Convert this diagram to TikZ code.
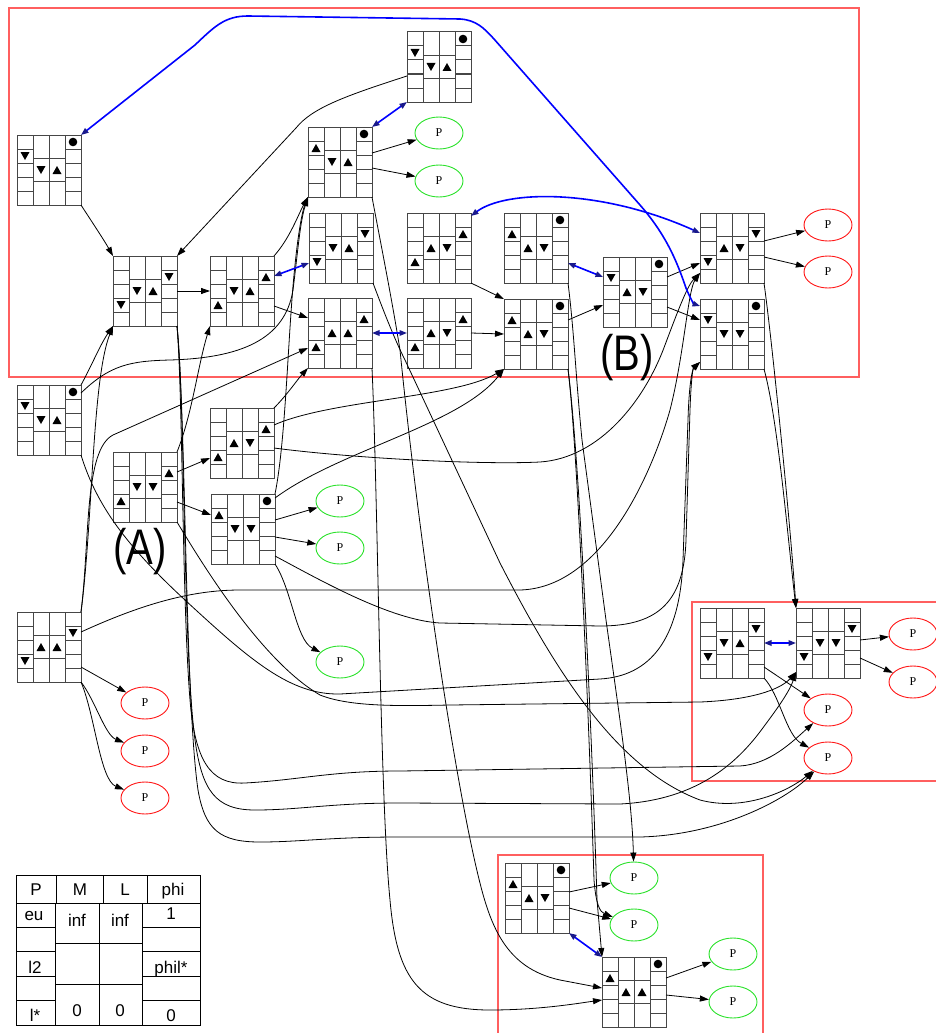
\documentclass[tikz,border=0pt]{standalone}
\usepackage{fontspec}
\setmainfont{Liberation Serif}
\newfontfamily\lsans{Liberation Sans}
\usetikzlibrary{arrows.meta,shapes.geometric,calc}

\definecolor{clusterred}{RGB}{255,95,95}
\definecolor{pgreen}{RGB}{40,225,40}
\definecolor{pred}{RGB}{255,20,20}
\definecolor{navyhead}{RGB}{25,25,140}
\definecolor{gridgray}{RGB}{70,70,70}

\tikzset{
  gbox/.style={draw=gridgray, line width=1pt, fill=white, minimum width=64pt, minimum height=70pt, inner sep=0pt, outer sep=0pt},
  gline/.style={draw=gridgray, line width=1pt},
  ellg/.style={ellipse, draw=pgreen, line width=0.9pt, minimum width=48pt, minimum height=32pt, inner sep=0pt, font=\fontsize{12}{14}\selectfont},
  ellr/.style={ellg, draw=pred},
  edg/.style={-{Triangle[length=9pt,width=6pt]}, line width=0.8pt},
  bedg/.style={{Triangle[length=7.5pt,width=5.5pt,color=navyhead]}-{Triangle[length=7.5pt,width=5.5pt,color=navyhead]}, line width=1.6pt, draw=blue},
  cluster/.style={draw=clusterred, line width=1.2pt},
  tline/.style={draw=black, line width=0.9pt},
  ttext/.style={font=\lsans\fontsize{17}{19}\selectfont, inner sep=0pt, anchor=base},
  bigtext/.style={font=\lsans\fontsize{50}{54}\selectfont, inner sep=0pt},
  tup/.pic={\fill (-4.5,4) -- (4.5,4) -- (0,-4) -- cycle;},
  tdn/.pic={\fill (-4.5,-4) -- (4.5,-4) -- (0,4) -- cycle;},
  dot/.pic={\fill (0,0) circle[radius=4.3pt];},
}

% grid state: name, x, y, row of left mark, left mark, middle marks, row of right mark, right mark
\newcommand\gnode[9]{%
  \node[gbox, anchor=north west] (#1) at (#2,#3) {};
  \begin{scope}[shift={(#2,#3)}]
    \draw[gline] (16,0)--(16,70) (32,0)--(32,70) (48,0)--(48,70)
      (0,14)--(16,14) (0,28)--(16,28) (0,42)--(16,42) (0,56)--(16,56)
      (48,14)--(64,14) (48,28)--(64,28) (48,42)--(64,42) (48,56)--(64,56)
      (16,23.33)--(48,23.33) (16,46.67)--(48,46.67);
    \pic at (8,{14*#4-7}) {#5};
    \pic at (24,35) {#6};
    \pic at (40,35) {#7};
    \pic at (56,{14*#8-7}) {#9};
  \end{scope}
}

\begin{document}
\begin{tikzpicture}[x=1pt,y=-1pt]
\useasboundingbox (0,0) rectangle (935,1033);

% clusters
\draw[cluster] (9,8) rectangle (859,377);
\draw[cluster] (692,602) rectangle (950,781);
\draw[cluster] (498,855) rectangle (763,1045);

% grid states
\gnode{A}{17}{135}{2}{tdn}{tdn}{tup}{1}{dot}
\gnode{B}{113}{256}{4}{tdn}{tdn}{tup}{2}{tdn}
\gnode{C}{210}{256}{4}{tup}{tdn}{tup}{2}{tup}
\gnode{D}{308}{127}{2}{tup}{tdn}{tup}{1}{dot}
\gnode{E}{407}{32}{2}{tdn}{tdn}{tup}{1}{dot}
\gnode{F}{309}{213}{4}{tdn}{tdn}{tup}{2}{tdn}
\gnode{G}{407}{213}{4}{tup}{tup}{tdn}{2}{tup}
\gnode{H}{504}{213}{2}{tup}{tup}{tdn}{1}{dot}
\gnode{I}{308}{298}{4}{tup}{tup}{tup}{2}{tup}
\gnode{J}{407}{298}{4}{tup}{tup}{tdn}{2}{tup}
\gnode{K}{504}{299}{2}{tup}{tup}{tdn}{1}{dot}
\gnode{L}{603}{257}{2}{tdn}{tup}{tdn}{1}{dot}
\gnode{M}{700}{213}{4}{tdn}{tup}{tdn}{2}{tdn}
\gnode{Nn}{700}{299}{2}{tdn}{tdn}{tdn}{1}{dot}
\gnode{O}{17}{385}{2}{tdn}{tdn}{tup}{1}{dot}
\gnode{Q}{113}{452}{4}{tup}{tdn}{tdn}{2}{tup}
\gnode{R}{210}{408}{4}{tup}{tup}{tdn}{2}{tup}
\gnode{S}{211}{494}{2}{tup}{tdn}{tdn}{1}{dot}
\gnode{T}{17}{612}{4}{tdn}{tup}{tup}{2}{tdn}
\gnode{U}{700}{608}{4}{tdn}{tdn}{tup}{2}{tdn}
\gnode{V}{796}{608}{4}{tdn}{tdn}{tdn}{2}{tdn}
\gnode{W}{505}{863}{2}{tup}{tup}{tdn}{1}{dot}
\gnode{X}{602}{957}{2}{tup}{tup}{tup}{1}{dot}

% outcome ellipses
\node[ellg] (g1) at (439,133) {P};
\node[ellg] (g2) at (439,181) {P};
\node[ellr] (r1) at (828,225) {P};
\node[ellr] (r2) at (828,272) {P};
\node[ellg] (g3) at (340,501) {P};
\node[ellg] (g4) at (340,548) {P};
\node[ellg] (g5) at (340,662) {P};
\node[ellr] (r3) at (145,703) {P};
\node[ellr] (r4) at (145,751) {P};
\node[ellr] (r5) at (145,798) {P};
\node[ellr] (r6) at (913,634) {P};
\node[ellr] (r7) at (913,682) {P};
\node[ellr] (r8) at (828,710) {P};
\node[ellr] (r9) at (828,758) {P};
\node[ellg] (g6) at (634,878) {P};
\node[ellg] (g7) at (634,925) {P};
\node[ellg] (g8) at (733,954) {P};
\node[ellg] (g9) at (733,1002) {P};

% short transitions
\draw[edg] (A.south east) .. controls (92,222) and (104,240) .. (B.north west);
\draw[edg] ([yshift=-44pt]E.north west) .. controls (345,96) and (312,108) .. (296,128) -- (B.north east);
\draw[edg] ([yshift=-35pt]B.north east) -- ([yshift=-35pt]C.north west);
\draw[edg] (C.north east) .. controls (290,238) and (298,215) .. (D.south west);
\draw[edg] ([yshift=-50pt]C.north east) -- ([yshift=-20pt]I.north west);
\draw[edg] ([yshift=-26pt]D.north east) -- (g1);
\draw[edg] ([yshift=-41pt]D.north east) -- (g2);
\draw[edg] (G.south east) -- (K.north west);
\draw[edg] ([yshift=-35pt]J.north east) -- ([yshift=-35pt]K.north west);
\draw[edg] ([yshift=-21pt]K.north east) -- ([yshift=-48pt]L.north west);
\draw[edg] ([yshift=-20pt]L.north east) -- ([yshift=-50pt]M.north west);
\draw[edg] ([yshift=-50pt]L.north east) -- ([yshift=-21pt]Nn.north west);
\draw[edg] ([yshift=-28pt]M.north east) -- (r1);
\draw[edg] ([yshift=-44pt]M.north east) -- (r2);
\draw[edg] ([yshift=-20pt]Q.north east) -- ([yshift=-50pt]R.north west);
\draw[edg] ([yshift=-50pt]Q.north east) -- ([yshift=-21pt]S.north west);
\draw[edg] (Q.north east) .. controls (192,415) and (198,365) .. (C.south west);
\draw[edg] (R.north east) .. controls (287,395) and (297,380) .. (I.south west);
\draw[edg] ([yshift=-26pt]S.north east) -- (g3);
\draw[edg] ([yshift=-43pt]S.north east) -- (g4);
\draw[edg] (S.south east) .. controls (292,590) and (296,640) .. (g5);
\draw[edg] ([yshift=-55pt]T.north east) -- (r3);
\draw[edg] (T.south east) .. controls (95,700) and (105,735) .. (r4);
\draw[edg] (T.south east) .. controls (95,715) and (100,780) .. (r5);
\draw[edg] ([yshift=-32pt]V.north east) -- (r6);
\draw[edg] ([yshift=-50pt]V.north east) -- (r7);
\draw[edg] ([yshift=-59pt]U.north east) -- (r8);
\draw[edg] (U.south east) .. controls (780,695) and (786,735) .. (r9);
\draw[edg] ([yshift=-29pt]W.north east) -- (g6);
\draw[edg] ([yshift=-45pt]W.north east) -- (g7);
\draw[edg] ([yshift=-21pt]X.north east) -- (g8);
\draw[edg] ([yshift=-38pt]X.north east) -- (g9);

% long transitions
\draw[edg] ([yshift=-17pt]R.north east) .. controls (330,400) and (455,398) .. (K.south west);
\draw[edg] ([yshift=-40pt]R.north east) .. controls (350,458) and (480,465) .. (540,462) .. controls (600,458) and (645,400) .. (665,345) .. controls (680,305) and (688,285) .. ([yshift=-60pt]M.north west);
\draw[edg] ([yshift=-4pt]S.north east) .. controls (340,450) and (460,425) .. (K.south west);
\draw[edg] (S.north east) .. controls (286,440) and (288,330) .. (295,265) .. controls (298,235) and (302,212) .. (D.south west);
\draw[edg] ([yshift=-62pt]S.north east) .. controls (320,580) and (390,620) .. (440,623) -- (600,626) .. controls (660,626) and (684,600) .. (686,540) -- (690,410) .. controls (691,380) and (693,368) .. ([yshift=-63pt]Nn.north west);
\draw[edg] (T.north east) .. controls (93,520) and (92,380) .. (B.south west);
\draw[edg] (T.north east) .. controls (90,540) and (84,450) .. (113,435) -- ([yshift=-50pt]I.north west);
\draw[edg] ([yshift=-20pt]T.north east) .. controls (140,605) and (190,590) .. (240,590) -- (520,590) .. controls (600,588) and (650,480) .. (670,410) .. controls (684,355) and (688,290) .. ([yshift=-60pt]M.north west);
\draw[edg] (O.north east) .. controls (92,365) and (100,345) .. (B.south west);
\draw[edg] ([yshift=-8pt]O.north east) .. controls (110,365) and (130,361) .. (170,360) .. controls (240,358) and (285,340) .. (293,290) .. controls (298,250) and (300,222) .. (D.south west);
\draw[edg] (O.south east) .. controls (95,500) and (120,540) .. (185,600) .. controls (250,660) and (290,695) .. (340,694) -- (600,679) .. controls (650,676) and (680,640) .. (683,560) -- (688,420) .. controls (689,385) and (692,370) .. ([yshift=-63pt]Nn.north west);
\draw[edg] (Q.south east) .. controls (200,560) and (260,660) .. (320,695) .. controls (350,707) and (400,706) .. (450,705) -- (700,702) .. controls (750,700) and (780,690) .. ([yshift=-64pt]V.north west);
\draw[edg] (B.south east) .. controls (183,400) and (182,600) .. (190,700) .. controls (195,760) and (210,785) .. (245,783) .. controls (300,780) and (330,771) .. (400,771) -- (740,766) .. controls (770,764) and (792,742) .. (r8);
\draw[edg] (B.south east) .. controls (185,400) and (183,650) .. (195,740) .. controls (202,790) and (215,810) .. (255,810) .. controls (300,810) and (330,803) .. (400,803) -- (620,804) .. controls (700,800) and (740,760) .. (765,725) .. controls (780,705) and (790,690) .. ([yshift=-64pt]V.north west);
\draw[edg] (B.south east) .. controls (186,420) and (185,700) .. (198,790) .. controls (205,830) and (220,842) .. (260,842) .. controls (300,842) and (330,837) .. (400,837) -- (640,837) .. controls (720,835) and (785,800) .. (r9);
\draw[edg] (F.south east) .. controls (385,315) and (395,340) .. (405,360) -- (500,563) .. controls (560,680) and (620,770) .. (700,800) .. controls (745,812) and (790,790) .. (r9);
\draw[edg] (D.south east) .. controls (382,250) and (392,300) .. (400,350) .. controls (420,550) and (455,780) .. (478,875) .. controls (490,925) and (505,968) .. (560,980) -- ([yshift=-31pt]X.north west);
\draw[edg] (I.south east) .. controls (378,500) and (380,800) .. (390,900) .. controls (397,980) and (420,1010) .. (490,1010) .. controls (540,1010) and (580,1003) .. ([yshift=-43pt]X.north west);
\draw[edg] (H.south east) .. controls (574,330) and (576,380) .. (582,440) -- (606,620) .. controls (620,720) and (632,800) .. (g6);
\draw[edg] (K.south east) .. controls (578,450) and (590,750) .. (594,880) .. controls (596,905) and (600,912) .. (g7);
\draw[edg] (K.south east) .. controls (582,480) and (594,800) .. (597,900) -- (X.north west);
\draw[edg] (M.south east) .. controls (772,340) and (790,520) .. (V.north west);
\draw[edg] (Nn.south east) .. controls (778,420) and (788,540) .. (V.north west);

% paired transitions
\draw[bedg] ([yshift=-20pt]C.north east) -- ([yshift=-50pt]F.north west);
\draw[bedg] (D.north east) -- (E.south west);
\draw[bedg] ([yshift=-35pt]I.north east) -- ([yshift=-35pt]J.north west);
\draw[bedg] ([yshift=-50pt]H.north east) -- ([yshift=-20pt]L.north west);
\draw[bedg] ([yshift=-3pt]G.north east) .. controls (505,190) and (600,188) .. ([yshift=-20pt]M.north west);
\draw[bedg] (A.north east) -- (195,45) .. controls (215,26) and (225,16) .. (248,16) -- (460,19) .. controls (476,20) and (484,28) .. (494,39) -- (640,205) .. controls (668,237) and (678,265) .. (686,288) .. controls (690,298) and (694,304) .. ([yshift=-7pt]Nn.north west);
\draw[bedg] ([yshift=-35pt]U.north east) -- ([yshift=-35pt]V.north west);
\draw[bedg] (W.south east) -- (X.north west);

% group labels
\node[bigtext] (lblA) at (140,552) {\scalebox{0.8}[1]{(A)}};
\node[bigtext] (lblB) at (627,358) {\scalebox{0.8}[1]{(B)}};

% key table
\draw[tline] (16,875) rectangle (200,1025);
\draw[tline] (16,903) -- (200,903);
\draw[tline] (56,875)--(56,903) (103,875)--(103,903) (147,875)--(147,903);
\draw[tline] (55,903)--(55,1025) (99,903)--(99,1025) (142,903)--(142,1025);
\foreach \yy in {927.4,951.8,976.2,1000.6} \draw[tline] (16,\yy)--(55,\yy) (142,\yy)--(200,\yy);
\draw[tline] (55,943.7)--(142,943.7) (55,984.3)--(142,984.3);
\node[ttext] (hP) at (36,895) {P};
\node[ttext] (hM) at (80,895) {M};
\node[ttext] (hL) at (125,895) {L};
\node[ttext] (hphi) at (173,895) {phi};
\node[ttext] (pa) at (34,920) {eu};
\node[ttext] (pb) at (35,973) {l2};
\node[ttext] (pc) at (35,1021) {l*};
\node[ttext] (ma) at (77,926) {inf};
\node[ttext] (mb) at (77,1016) {0};
\node[ttext] (la) at (120,926) {inf};
\node[ttext] (lb) at (120,1016) {0};
\node[ttext] (fa) at (171,919) {1};
\node[ttext] (fb) at (171,973) {phil*};
\node[ttext] (fc) at (171,1021) {0};
\end{tikzpicture}
\end{document}
